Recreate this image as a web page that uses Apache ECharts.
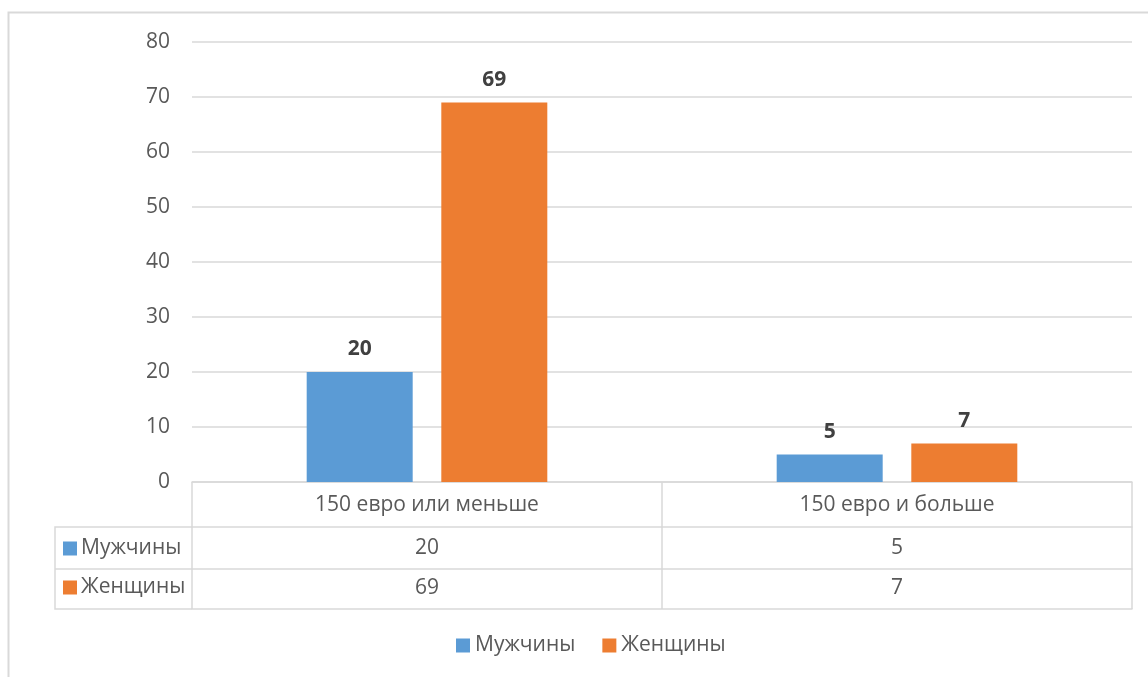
<!DOCTYPE html>
<html>
<head>
<meta charset="utf-8">
<script src="https://cdn.jsdelivr.net/npm/echarts@6/dist/echarts.min.js"></script>
<style>
  html, body { margin: 0; padding: 0; background: #fff; }
  #chart { width: 1148px; height: 677px; }
</style>
</head>
<body>
<div id="chart"></div>
<script>
var categories = ['150 евро или меньше', '150 евро и больше']
var seriesNames = ['Мужчины', 'Женщины']
var men = [20, 5]
var women = [69, 7]
var yTicks = { min: 0, max: 80, interval: 10 }

var FONT = 'Open Sans'
var SIZE = 21
var TEXT = '#595959'
var LINE = '#d9d9d9'
var colors = ['#5B9BD5', '#ED7D31']

var chart = echarts.init(document.getElementById('chart'))

// extra bottom axes draw the data-table rows
function tableAxis(values, offset, margin, showLabel) {
  return {
    type: 'category',
    data: values.map(String),
    position: 'bottom',
    offset: offset,
    axisLine: { show: true, lineStyle: { color: LINE, width: 1.5 } },
    axisTick: { show: false },
    axisLabel: {
      show: showLabel,
      margin: margin,
      color: TEXT,
      fontFamily: FONT,
      fontSize: SIZE
    }
  }
}

var barLabel = { show: true, position: 'top', distance: 12, color: '#404040', fontWeight: 'bold', fontSize: SIZE, fontFamily: FONT }

chart.setOption({
  animation: false,
  color: colors,
  textStyle: { fontFamily: FONT },
  grid: { left: 192, right: 16, top: 42, bottom: 195 },
  legend: [{
    data: seriesNames,
    bottom: 16,
    left: 451,
    icon: 'rect',
    itemWidth: 14,
    itemHeight: 14,
    itemGap: 27,
    textStyle: { color: TEXT, fontFamily: FONT, fontSize: SIZE }
  }, {
    data: seriesNames,
    orient: 'vertical',
    left: 58,
    top: 533,
    icon: 'rect',
    itemWidth: 14,
    itemHeight: 14,
    itemGap: 18,
    selectedMode: false,
    textStyle: { color: TEXT, fontFamily: FONT, fontSize: SIZE, padding: [0, 0, 0, -1] }
  }],
  xAxis: [{
    type: 'category',
    data: categories,
    axisLine: { show: true, lineStyle: { color: LINE, width: 1.5 } },
    axisTick: { show: true, length: 127, lineStyle: { color: LINE, width: 1.5 } },
    axisLabel: { margin: 13, color: TEXT, fontFamily: FONT, fontSize: SIZE }
  },
    tableAxis(men, 45, 11, true),
    tableAxis(women, 87, 9, true),
    tableAxis(women, 127, 8, false)
  ],
  yAxis: {
    type: 'value',
    min: yTicks.min,
    max: yTicks.max,
    interval: yTicks.interval,
    axisLine: { show: false },
    axisTick: { show: false },
    splitLine: { lineStyle: { color: LINE, width: 1.5 } },
    axisLabel: { margin: 22, color: TEXT, fontFamily: FONT, fontSize: SIZE }
  },
  series: [{
    name: seriesNames[0],
    type: 'bar',
    data: men,
    barWidth: 106,
    barGap: '27%',
    label: barLabel
  }, {
    name: seriesNames[1],
    type: 'bar',
    data: women,
    barWidth: 106,
    barGap: '27%',
    label: barLabel
  }],
  graphic: [
    // outer chart border (left and top visible)
    { type: 'polyline', shape: { points: [[8.5, 677], [8.5, 12.5], [1148, 12.5]] }, style: { stroke: LINE, lineWidth: 2, fill: null } },
    // series-name cells of the data table
    { type: 'polyline', shape: { points: [[192, 527], [55, 527], [55, 609], [192, 609]] }, style: { stroke: LINE, lineWidth: 1.5, fill: null } },
    { type: 'line', shape: { x1: 55, y1: 569, x2: 192, y2: 569 }, style: { stroke: LINE, lineWidth: 1.5 } }
  ]
})
</script>
</body>
</html>
